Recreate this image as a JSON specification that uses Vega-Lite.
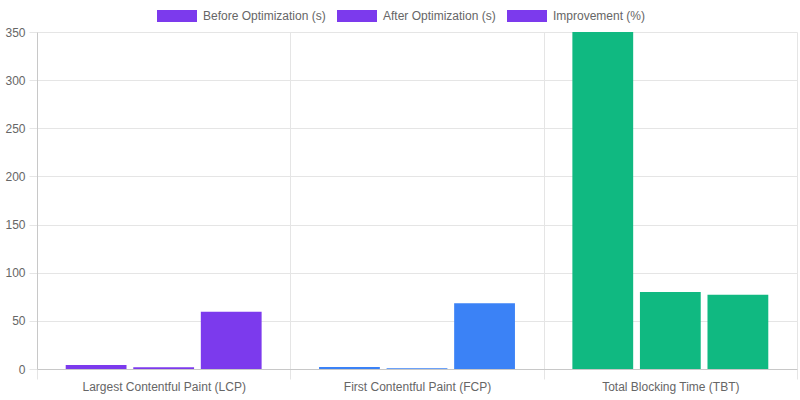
{
  "$schema": "https://vega.github.io/schema/vega-lite/v6.json",
  "autosize": {"type": "none"},
  "width": 760,
  "height": 337,
  "padding": {"left": 37, "top": 32, "right": 3, "bottom": 31},
  "background": "white",
  "config": {
    "view": {"stroke": null},
    "font": "Liberation Sans",
    "axis": {"labelFont": "Liberation Sans", "labelFontSize": 12, "labelColor": "#666666", "gridColor": "#e5e5e5", "tickColor": "#e5e5e5", "domainColor": "#c8c8c8"}
  },
  "data": {
    "values": [
      {"metric": "Largest Contentful Paint (LCP)", "series": "Before Optimization (s)", "value": 4.2},
      {"metric": "Largest Contentful Paint (LCP)", "series": "After Optimization (s)", "value": 1.7},
      {"metric": "Largest Contentful Paint (LCP)", "series": "Improvement (%)", "value": 59.5},
      {"metric": "First Contentful Paint (FCP)", "series": "Before Optimization (s)", "value": 2.2},
      {"metric": "First Contentful Paint (FCP)", "series": "After Optimization (s)", "value": 0.7},
      {"metric": "First Contentful Paint (FCP)", "series": "Improvement (%)", "value": 68.2},
      {"metric": "Total Blocking Time (TBT)", "series": "Before Optimization (s)", "value": 350},
      {"metric": "Total Blocking Time (TBT)", "series": "After Optimization (s)", "value": 80},
      {"metric": "Total Blocking Time (TBT)", "series": "Improvement (%)", "value": 77.1}
    ]
  },
  "mark": {"type": "bar", "clip": true},
  "encoding": {
    "x": {
      "field": "metric", "type": "nominal", "sort": null, "title": null,
      "scale": {"paddingInner": 0, "paddingOuter": 0},
      "axis": {"labelAngle": 0, "tickBand": "extent", "grid": true, "tickSize": 10, "labelPadding": 2, "domain": true}
    },
    "xOffset": {
      "field": "series", "type": "nominal", "sort": ["Before Optimization (s)", "After Optimization (s)", "Improvement (%)"],
      "scale": {"paddingInner": 0.1, "paddingOuter": 0.425}
    },
    "y": {
      "field": "value", "type": "quantitative", "title": null,
      "scale": {"domain": [0, 350], "nice": false},
      "axis": {"values": [0, 50, 100, 150, 200, 250, 300, 350], "tickSize": 8, "labelPadding": 4, "grid": true}
    },
    "opacity": {
      "field": "series", "type": "nominal", "sort": ["Before Optimization (s)", "After Optimization (s)", "Improvement (%)"],
      "scale": {"range": [1, 1, 1]},
      "legend": {
        "title": null, "orient": "none", "direction": "horizontal",
        "legendX": 120, "legendY": -36,
        "symbolType": "M-1,-0.3H1V0.3H-1Z", "symbolSize": 1600, "symbolStrokeWidth": 0,
        "symbolFillColor": "#7c3aed", "symbolOpacity": 1,
        "labelFont": "Liberation Sans", "labelFontSize": 12, "labelColor": "#666666",
        "labelOffset": 6, "columnPadding": 11
      }
    },
    "color": {
      "field": "metric", "type": "nominal", "sort": null,
      "scale": {"range": ["#7c3aed", "#3b82f6", "#10b981"]},
      "legend": null
    }
  }
}
